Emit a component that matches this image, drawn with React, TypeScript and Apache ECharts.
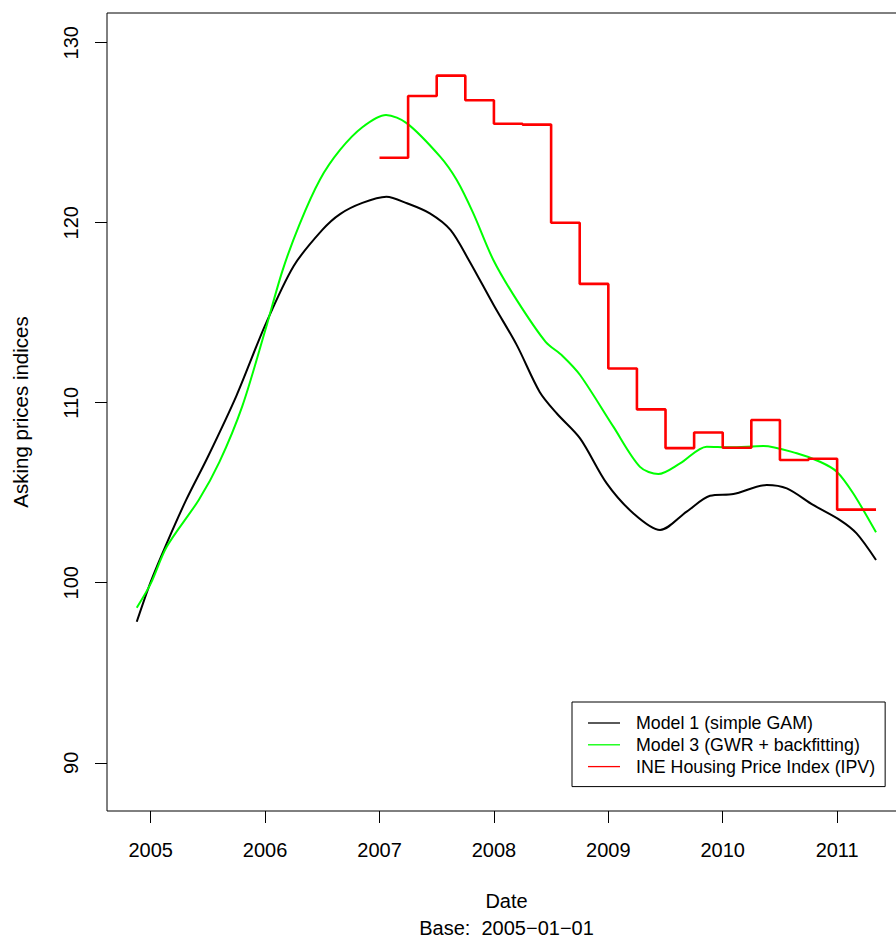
import React, { useEffect, useRef } from "react";
import * as echarts from "echarts";

const FONT = "'Liberation Sans', Arial, Helvetica, sans-serif";

const seriesNames = [
  "Model 1 (simple GAM)",
  "Model 3 (GWR + backfitting)",
  "INE Housing Price Index (IPV)",
];

const xTickValues = [2005, 2006, 2007, 2008, 2009, 2010, 2011];
const yTickValues = [90, 100, 110, 120, 130];

const model1Dates = [
  2004.878, 2005.0, 2005.14, 2005.31, 2005.5, 2005.75, 2006.0, 2006.25, 2006.5,
  2006.655, 2006.85, 2007.06, 2007.24, 2007.44, 2007.62, 2007.78, 2008.0,
  2008.2, 2008.4, 2008.55, 2008.753, 2008.986, 2009.22, 2009.452, 2009.685,
  2009.889, 2010.093, 2010.385, 2010.56, 2010.79, 2011.025, 2011.17, 2011.34,
];
const model1Values = [
  97.83, 100.05, 102.19, 104.6, 107.0, 110.4, 114.3, 117.6, 119.6, 120.48,
  121.1, 121.44, 121.08, 120.52, 119.6, 117.93, 115.4, 113.2, 110.6, 109.4,
  108.02, 105.52, 103.85, 102.93, 103.95, 104.83, 104.93, 105.43, 105.24,
  104.32, 103.48, 102.74, 101.26,
];

const model3Dates = [
  2004.878, 2005.0, 2005.14, 2005.42, 2005.6, 2005.8, 2006.0, 2006.15, 2006.3,
  2006.48, 2006.655, 2006.85, 2007.057, 2007.24, 2007.53, 2007.675, 2007.82,
  2007.995, 2008.2, 2008.45, 2008.6, 2008.753, 2009.044, 2009.277, 2009.437,
  2009.627, 2009.86, 2010.064, 2010.355, 2010.647, 2010.85, 2010.997, 2011.14,
  2011.34,
];
const model3Values = [
  98.61, 99.95, 102.0, 104.6, 106.7, 109.8, 114.0, 117.3, 119.9, 122.4, 124.04,
  125.3, 125.98, 125.52, 123.67, 122.37, 120.52, 117.93, 115.7, 113.4, 112.6,
  111.54, 108.67, 106.44, 106.04, 106.63, 107.56, 107.52, 107.6, 107.19,
  106.72, 106.17, 104.97, 102.8,
];

const ipvDates = [
  2007.0, 2007.25, 2007.5, 2007.75, 2008.0, 2008.25, 2008.5, 2008.75, 2009.0,
  2009.25, 2009.5, 2009.75, 2010.0, 2010.25, 2010.5, 2010.75, 2011.0, 2011.34,
];
const ipvValues = [
  123.61, 127.04, 128.17, 126.8, 125.5, 125.45, 120.0, 116.6, 111.9, 109.63,
  107.48, 108.35, 107.5, 109.04, 106.82, 106.89, 104.06, 104.06,
];

const zip = (xs: number[], ys: number[]) => xs.map((x, i) => [x, ys[i]]);

export default function App() {
  const ref = useRef<HTMLDivElement>(null);
  useEffect(() => {
    if (!ref.current) return;
    const chart = echarts.init(ref.current, undefined, { renderer: "svg" });
    chart.setOption({
      animation: false,
      backgroundColor: "#ffffff",
      textStyle: { fontFamily: FONT },
      grid: {
        show: true,
        left: 107,
        top: 13,
        width: 799,
        height: 798,
        containLabel: false,
        outerBoundsMode: "none",
        borderColor: "#000",
        borderWidth: 1,
        backgroundColor: "transparent",
      },
      legend: {
        orient: "vertical",
        left: 572,
        top: 702,
        padding: [11, 10, 10, 16],
        itemGap: 1.8,
        itemWidth: 32,
        itemHeight: 1.3,
        icon: "rect",
        borderColor: "#000",
        borderWidth: 1,
        backgroundColor: "#fff",
        textStyle: {
          fontFamily: FONT,
          fontSize: 17.8,
          color: "#000",
          lineHeight: 20,
          padding: [0, 0, 0, 11],
        },
        data: seriesNames,
      },
      xAxis: {
        type: "value",
        min: 2004.618,
        max: 2011.602,
        name: "Date\nBase:  2005\u221201\u221201",
        nameLocation: "middle",
        nameGap: 76,
        nameTextStyle: {
          fontFamily: FONT,
          fontSize: 20,
          color: "#000",
          lineHeight: 27,
        },
        splitLine: { show: false },
        axisLine: { show: false },
        axisTick: {
          show: true,
          length: 12,
          inside: false,
          customValues: xTickValues,
          lineStyle: { color: "#000", width: 1 },
        },
        axisLabel: {
          customValues: xTickValues,
          margin: 29,
          fontFamily: FONT,
          fontSize: 20,
          color: "#000",
          formatter: (v: number) => String(v),
        },
      },
      yAxis: {
        type: "value",
        min: 87.32,
        max: 131.65,
        name: "Asking prices indices",
        nameLocation: "middle",
        nameRotate: 90,
        nameGap: 76,
        nameTextStyle: { fontFamily: FONT, fontSize: 20.5, color: "#000" },
        splitLine: { show: false },
        axisLine: { show: false },
        axisTick: {
          show: true,
          length: 12,
          inside: false,
          customValues: yTickValues,
          lineStyle: { color: "#000", width: 1 },
        },
        axisLabel: {
          customValues: yTickValues,
          rotate: 90,
          margin: 26,
          fontFamily: FONT,
          fontSize: 20,
          color: "#000",
          formatter: (v: number) => String(v),
        },
      },
      series: [
        {
          name: seriesNames[0],
          type: "line",
          data: zip(model1Dates, model1Values),
          symbol: "none",
          showSymbol: false,
          smooth: 0.3,
          color: "#000000",
          lineStyle: { color: "#000000", width: 2 },
          z: 2,
        },
        {
          name: seriesNames[1],
          type: "line",
          data: zip(model3Dates, model3Values),
          symbol: "none",
          showSymbol: false,
          smooth: 0.3,
          color: "#00ff00",
          lineStyle: { color: "#00ff00", width: 2 },
          z: 3,
        },
        {
          name: seriesNames[2],
          type: "line",
          data: zip(ipvDates, ipvValues),
          symbol: "none",
          showSymbol: false,
          step: "end",
          color: "#ff0000",
          lineStyle: { color: "#ff0000", width: 2.6 },
          z: 4,
        },
      ],
    });
    return () => chart.dispose();
  }, []);
  return (
    <div
      ref={ref}
      style={{ position: "fixed", left: 0, top: 0, width: 896, height: 938 }}
    />
  );
}
